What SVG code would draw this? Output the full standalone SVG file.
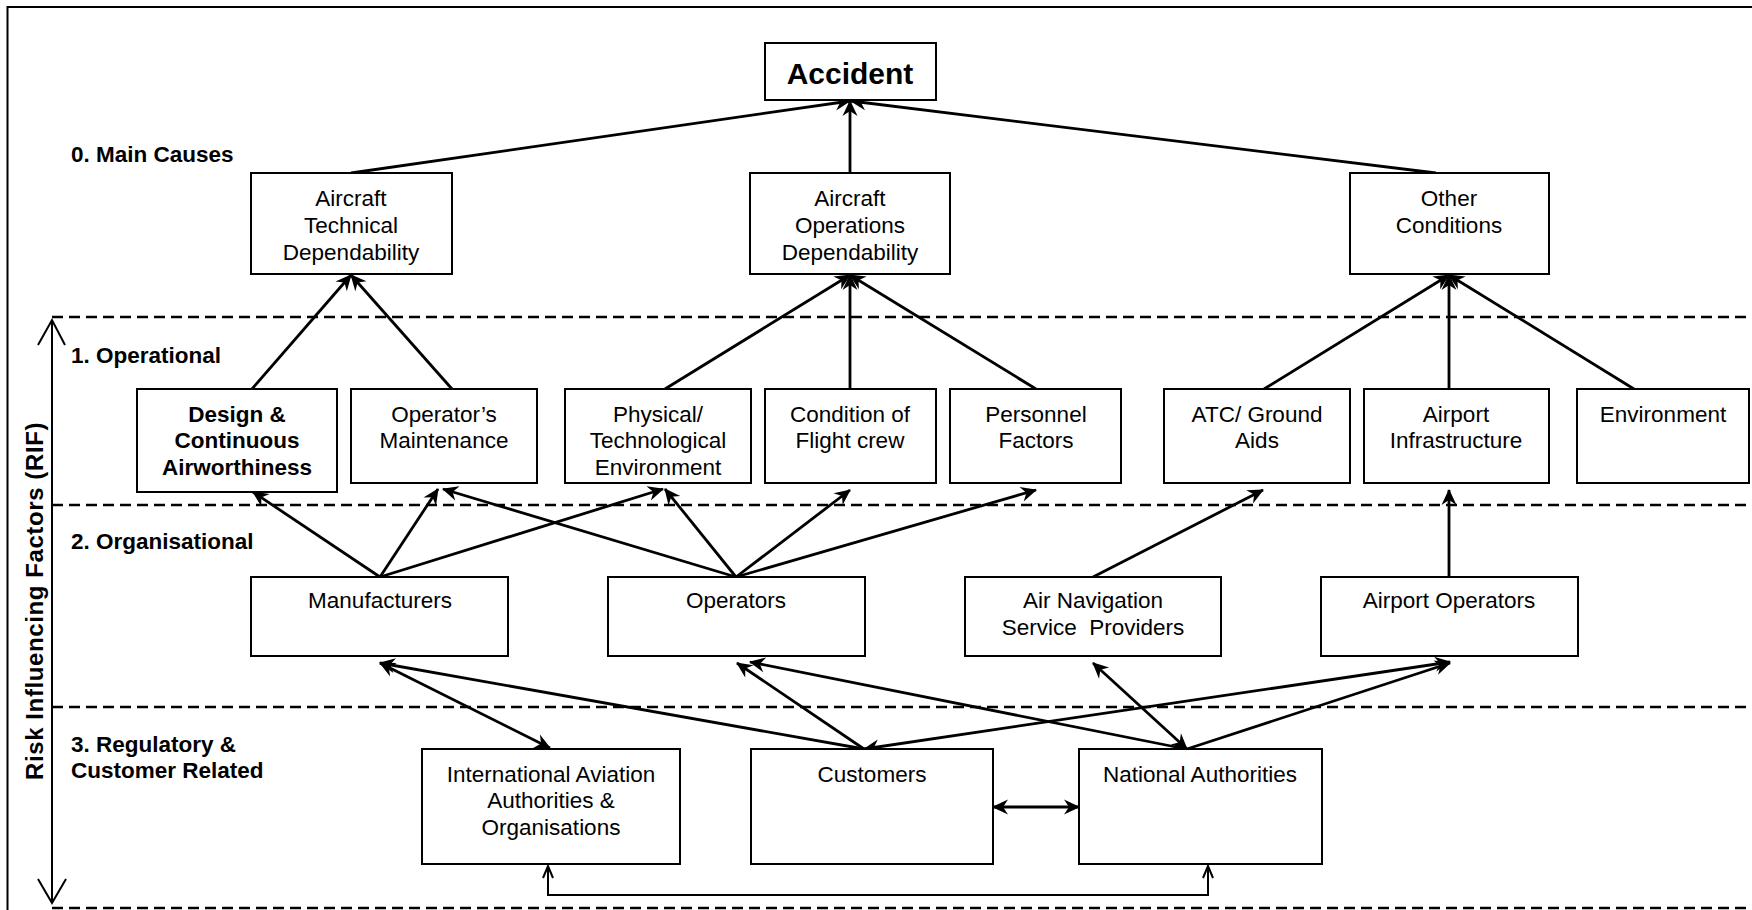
<svg xmlns="http://www.w3.org/2000/svg" width="1752" height="910" viewBox="0 0 1752 910">
<style>
.box{fill:#fff;stroke:#000;stroke-width:2}
.t{font-family:"Liberation Sans",Arial,sans-serif;font-size:22.5px;fill:#000;text-anchor:middle}
.b{font-weight:bold}
.lab{font-family:"Liberation Sans",Arial,sans-serif;font-size:22.5px;font-weight:bold;fill:#000}
.c{stroke:#000;stroke-width:2.8;fill:none}
.dash{stroke:#000;stroke-width:2.5;stroke-dasharray:11 6;fill:none}
</style>
<defs>
<marker id="ah" viewBox="-17 -9 19 18" refX="0" refY="0" markerWidth="19" markerHeight="18" orient="auto-start-reverse" markerUnits="userSpaceOnUse">
<path d="M1,0 L-15,-7.5 L-10,0 L-15,7.5 Z" fill="#000"/>
</marker>
<marker id="oh" viewBox="-13 -7 15 14" refX="0" refY="0" markerWidth="15" markerHeight="14" orient="auto-start-reverse" markerUnits="userSpaceOnUse">
<path d="M-12,-5 L0,0 L-12,5" fill="none" stroke="#000" stroke-width="2"/>
</marker>
</defs>
<rect width="1752" height="910" fill="#fff"/>
<path d="M7.5,920 V7 H1760" fill="none" stroke="#000" stroke-width="2"/>

<g id="layers">
<line class="dash" x1="52" y1="317" x2="1752" y2="317"/>
<line class="dash" x1="52" y1="505" x2="1752" y2="505"/>
<line class="dash" x1="52" y1="707" x2="1752" y2="707"/>
<line class="dash" x1="52" y1="908" x2="1752" y2="908"/>
<line x1="52" y1="321" x2="52" y2="902" stroke="#000" stroke-width="2"/>
<polyline points="38,345 52,320 65,345" fill="none" stroke="#000" stroke-width="2"/>
<polyline points="38,879 52,903 66,879" fill="none" stroke="#000" stroke-width="2"/>
<text class="lab" letter-spacing="0.6" text-anchor="middle" transform="translate(43,601) rotate(-90)" style="font-size:24px">Risk Influencing Factors (RIF)</text>
<text class="lab" x="71" y="162">0. Main Causes</text>
<text class="lab" x="71" y="363">1. Operational</text>
<text class="lab" x="71" y="549">2. Organisational</text>
<text class="lab" x="71" y="752">3. Regulatory &amp;</text>
<text class="lab" x="71" y="778">Customer Related</text>
</g>

<g id="connectors">
<line class="c" x1="351" y1="173" x2="850" y2="101" marker-end="url(#ah)"/>
<line class="c" x1="850" y1="173" x2="850" y2="101" marker-end="url(#ah)"/>
<line class="c" x1="1436" y1="173" x2="851" y2="101" marker-end="url(#ah)"/>

<line class="c" x1="252" y1="389" x2="351" y2="275" marker-end="url(#ah)"/>
<line class="c" x1="452" y1="389" x2="351" y2="275" marker-end="url(#ah)"/>
<line class="c" x1="665" y1="389" x2="850" y2="275" marker-end="url(#ah)"/>
<line class="c" x1="850" y1="389" x2="850" y2="275" marker-end="url(#ah)"/>
<line class="c" x1="1036" y1="389" x2="850" y2="275" marker-end="url(#ah)"/>
<line class="c" x1="1264" y1="389" x2="1449" y2="275" marker-end="url(#ah)"/>
<line class="c" x1="1449" y1="389" x2="1449" y2="275" marker-end="url(#ah)"/>
<line class="c" x1="1634" y1="389" x2="1449" y2="275" marker-end="url(#ah)"/>

<line class="c" x1="380" y1="577" x2="253" y2="492" marker-end="url(#ah)"/>
<line class="c" x1="380" y1="577" x2="438" y2="489" marker-end="url(#ah)"/>
<line class="c" x1="380" y1="577" x2="663" y2="489" marker-end="url(#ah)"/>
<line class="c" x1="736" y1="577" x2="443" y2="489" marker-end="url(#ah)"/>
<line class="c" x1="736" y1="577" x2="665" y2="489" marker-end="url(#ah)"/>
<line class="c" x1="736" y1="577" x2="850" y2="490" marker-end="url(#ah)"/>
<line class="c" x1="736" y1="577" x2="1036" y2="490" marker-end="url(#ah)"/>
<line class="c" x1="1093" y1="577" x2="1263" y2="490" marker-end="url(#ah)"/>
<line class="c" x1="1449" y1="577" x2="1449" y2="490" marker-end="url(#ah)"/>

<line class="c" x1="864" y1="749" x2="380" y2="663" marker-end="url(#ah)"/>
<line class="c" x1="550" y1="748" x2="380" y2="663" marker-start="url(#ah)" marker-end="url(#ah)"/>
<line class="c" x1="864" y1="749" x2="737" y2="663" marker-end="url(#ah)"/>
<line class="c" x1="1186" y1="749" x2="750" y2="662" marker-end="url(#ah)"/>
<line class="c" x1="864" y1="749" x2="1450" y2="662" marker-start="url(#ah)" marker-end="url(#ah)"/>
<line class="c" x1="1187" y1="749" x2="1093" y2="663" marker-start="url(#ah)" marker-end="url(#ah)"/>
<line class="c" x1="1187" y1="749" x2="1450" y2="663" marker-end="url(#ah)"/>
<line class="c" x1="993" y1="807" x2="1079" y2="807" marker-start="url(#ah)" marker-end="url(#ah)"/>
<polyline points="548,866 548,895 1208,895 1208,866" fill="none" stroke="#000" stroke-width="2" marker-start="url(#oh)" marker-end="url(#oh)"/>
</g>

<g id="accident"><rect class="box" x="765" y="43" width="171" height="57"/><text class="t b" x="850" y="84" style="font-size:30px">Accident</text></g>

<g id="aircraft-technical"><rect class="box" x="251" y="173" width="201" height="101"/><text class="t" x="351" y="206">Aircraft</text><text class="t" x="351" y="233">Technical</text><text class="t" x="351" y="260">Dependability</text></g>
<g id="aircraft-operations"><rect class="box" x="750" y="173" width="200" height="101"/><text class="t" x="850" y="206">Aircraft</text><text class="t" x="850" y="233">Operations</text><text class="t" x="850" y="260">Dependability</text></g>
<g id="other-conditions"><rect class="box" x="1350" y="173" width="199" height="101"/><text class="t" x="1449" y="206">Other</text><text class="t" x="1449" y="233">Conditions</text></g>

<g id="design"><rect class="box" x="137" y="389" width="200" height="103"/><text class="t b" x="237" y="422">Design &amp;</text><text class="t b" x="237" y="448">Continuous</text><text class="t b" x="237" y="475">Airworthiness</text></g>
<g id="operators-maintenance"><rect class="box" x="351" y="389" width="186" height="94"/><text class="t" x="444" y="422">Operator’s</text><text class="t" x="444" y="448">Maintenance</text></g>
<g id="physical"><rect class="box" x="565" y="389" width="186" height="94"/><text class="t" x="658" y="422">Physical/</text><text class="t" x="658" y="448">Technological</text><text class="t" x="658" y="475">Environment</text></g>
<g id="condition"><rect class="box" x="765" y="389" width="171" height="94"/><text class="t" x="850" y="422">Condition of</text><text class="t" x="850" y="448">Flight crew</text></g>
<g id="personnel"><rect class="box" x="950" y="389" width="171" height="94"/><text class="t" x="1036" y="422">Personnel</text><text class="t" x="1036" y="448">Factors</text></g>
<g id="atc"><rect class="box" x="1164" y="389" width="186" height="94"/><text class="t" x="1257" y="422">ATC/ Ground</text><text class="t" x="1257" y="448">Aids</text></g>
<g id="airport-infrastructure"><rect class="box" x="1364" y="389" width="185" height="94"/><text class="t" x="1456" y="422">Airport</text><text class="t" x="1456" y="448">Infrastructure</text></g>
<g id="environment"><rect class="box" x="1577" y="389" width="172" height="94"/><text class="t" x="1663" y="422">Environment</text></g>

<g id="manufacturers"><rect class="box" x="251" y="577" width="257" height="79"/><text class="t" x="380" y="608">Manufacturers</text></g>
<g id="operators"><rect class="box" x="608" y="577" width="257" height="79"/><text class="t" x="736" y="608">Operators</text></g>
<g id="air-navigation"><rect class="box" x="965" y="577" width="256" height="79"/><text class="t" x="1093" y="608">Air Navigation</text><text class="t" x="1093" y="635" xml:space="preserve">Service  Providers</text></g>
<g id="airport-operators"><rect class="box" x="1321" y="577" width="257" height="79"/><text class="t" x="1449" y="608">Airport Operators</text></g>

<g id="international"><rect class="box" x="422" y="749" width="258" height="115"/><text class="t" x="551" y="782">International Aviation</text><text class="t" x="551" y="808">Authorities &amp;</text><text class="t" x="551" y="835">Organisations</text></g>
<g id="customers"><rect class="box" x="751" y="749" width="242" height="115"/><text class="t" x="872" y="782">Customers</text></g>
<g id="national"><rect class="box" x="1079" y="749" width="243" height="115"/><text class="t" x="1200" y="782">National Authorities</text></g>
</svg>
